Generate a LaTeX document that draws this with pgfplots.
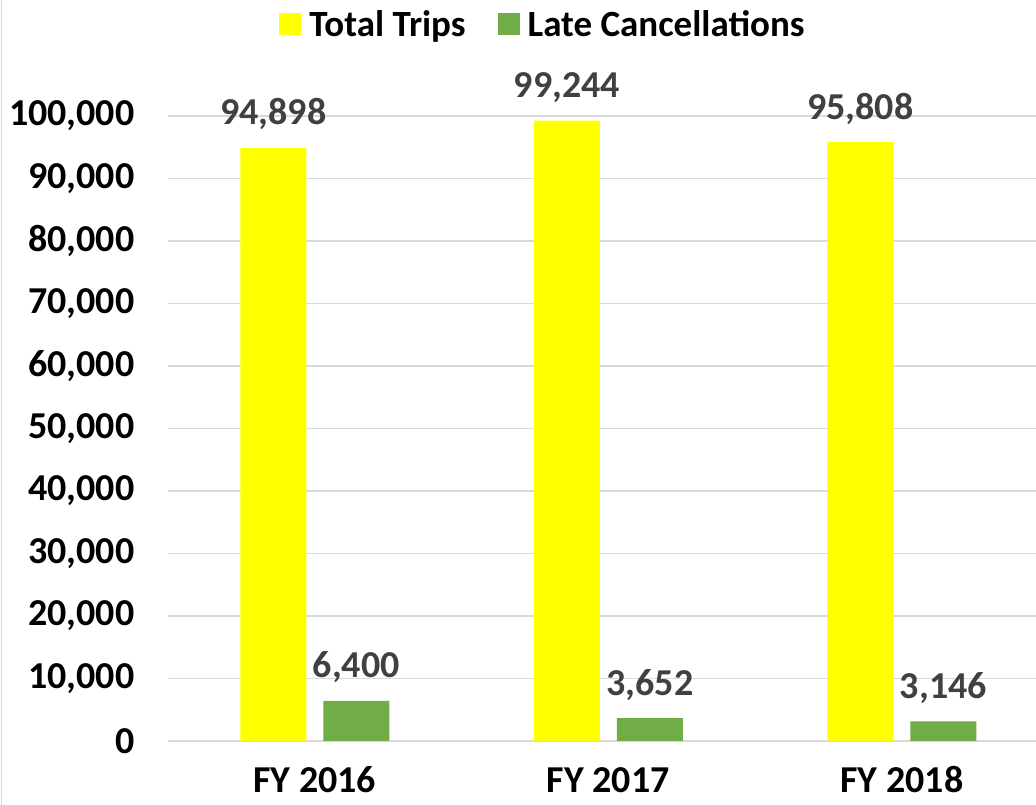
\documentclass[border=0pt]{standalone}
\usepackage{fontspec}
\setmainfont{Carlito}
\usepackage{pgfplots}
\pgfplotsset{compat=1.18}
\definecolor{tripyellow}{HTML}{FFFF00}
\definecolor{lategreen}{HTML}{70AD47}
\definecolor{lblgray}{HTML}{404040}
\definecolor{gridgray}{HTML}{D9D9D9}
\begin{document}
\begin{tikzpicture}
\path[use as bounding box] (0,0) rectangle (1036pt,805pt);
\draw[gridgray, line width=1.5pt] (1.5pt,0) -- (1.5pt,805pt);
\begin{axis}[
    at={(168pt,64pt)}, anchor=south west,
    scale only axis,
    width=868pt, height=625pt,
    ybar=17pt,
    bar width=66pt,
    xmin=-0.5, xmax=2.457,
    ymin=0, ymax=100000,
    xtick=data,
    xticklabels={FY 2016, FY 2017, FY 2018},
    ytick={0,10000,...,100000},
    scaled y ticks=false,
    /pgf/number format/fixed,
    /pgf/number format/1000 sep={,},
    /pgf/number format/assume math mode=true,
    yticklabel style={anchor=east, xshift=-30pt},
    xticklabel style={anchor=base, yshift=-47pt, inner sep=0pt},
    ticklabel style={font=\fontsize{38}{42}\selectfont\bfseries, text=black},
    axis line style={draw=none},
    tick style={draw=none},
    ymajorgrids,
    grid style={gridgray, line width=1.5pt},
    clip=false,
    nodes near coords,
    nodes near coords style={font=\fontsize{38}{42}\selectfont\bfseries, text=lblgray, anchor=base, yshift=23pt, inner sep=0pt},
    legend columns=2,
    legend style={at={(0.432,1.147)}, anchor=center, draw=none, fill=none,
        font=\fontsize{37}{41}\selectfont\bfseries,
        /tikz/every odd column/.append style={column sep=6pt},
        /tikz/every even column/.append style={column sep=30pt}},
    legend image code/.code={\fill[#1] (0pt,-11pt) rectangle (22pt,11pt);},
]
\addplot[fill=tripyellow, draw=none] coordinates {(0,94898) (1,99244) (2,95808)};
\addplot[fill=lategreen, draw=none] coordinates {(0,6400) (1,3652) (2,3146)};
\legend{Total Trips, Late Cancellations}
\end{axis}
\end{tikzpicture}
\end{document}
